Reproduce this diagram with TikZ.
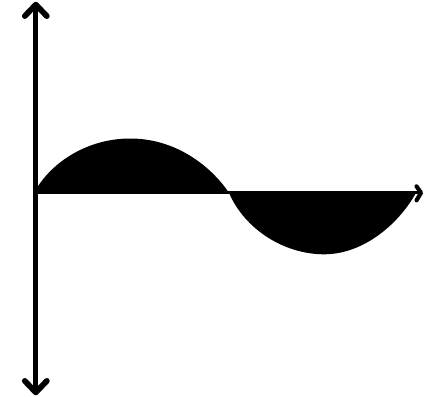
\documentclass[tikz,border=0pt]{standalone}
\begin{document}
\begin{tikzpicture}[x=0.75pt,y=-0.75pt,
  vline/.style={line width=3.75pt},
  hline/.style={line width=2.3pt},
  vhead/.style={line width=4.3pt,line cap=round,line join=round},
  hhead/.style={line width=3.1pt,line cap=round,line join=round}]
\useasboundingbox (0,0) rectangle (424,396);
\fill[black] (34,192.8) .. controls (52,160) and (90,138.5) .. (130,138.5)
  .. controls (175,138.5) and (210,165) .. (229,192.8)
  .. controls (245,230) and (285,254.3) .. (324,254.3)
  .. controls (365,254.3) and (400,222) .. (416,192.8) -- cycle;
\coordinate (o) at (35.8,192.8);
\coordinate (xe) at (421,192.8);
\coordinate (yt) at (35.8,4.6);
\coordinate (yb) at (35.8,392.4);
\draw[hline] (o) -- (xe);
\draw[vline] (yb) -- (yt);
\draw[vhead] ([shift={(-11,11.5)}]yt) -- (yt) -- ([shift={(11,11.5)}]yt);
\draw[vhead] ([shift={(-11,-11.5)}]yb) -- (yb) -- ([shift={(11,-11.5)}]yb);
\draw[hhead] ([shift={(-4.5,-6.5)}]xe) -- (xe) -- ([shift={(-4.5,7.5)}]xe);
\end{tikzpicture}
\end{document}
